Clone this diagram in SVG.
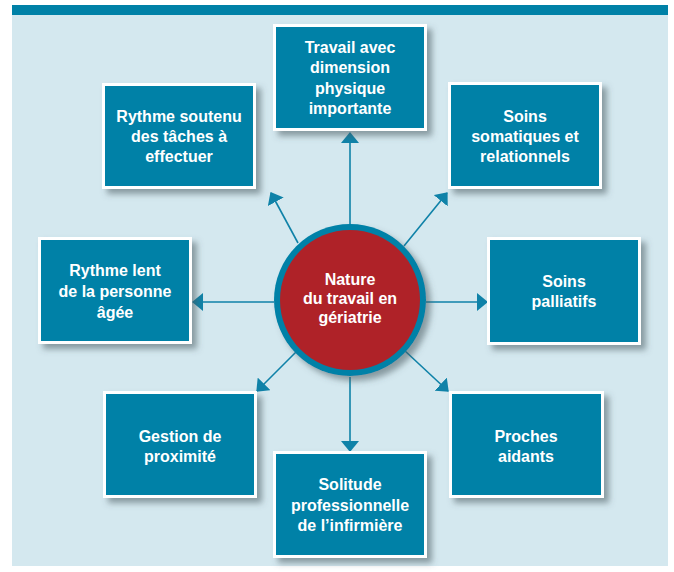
<svg xmlns="http://www.w3.org/2000/svg" width="674" height="572" viewBox="0 0 674 572">
<style>
.box-o{fill:#ffffff;}
.box-i{fill:#0081A7;}
.t{font-family:"Liberation Sans",Arial,sans-serif;font-weight:bold;font-size:16px;fill:#ffffff;text-anchor:middle;}
.c{stroke:#0F82A8;stroke-width:1.6;fill:none;marker-end:url(#ah);}
</style>
<defs>
<filter id="sh" x="-20%" y="-20%" width="150%" height="150%">
<feDropShadow dx="5" dy="5" stdDeviation="3" flood-color="#4a5a60" flood-opacity="0.55"/>
</filter>
<marker id="ah" viewBox="0 0 11 18" refX="10" refY="9" markerWidth="11" markerHeight="18" markerUnits="userSpaceOnUse" orient="auto">
<path d="M0,0 L11,9 L0,18 z" fill="#0F82A8"/>
</marker>
</defs>
<rect x="12" y="5" width="656" height="561" fill="#D4E8EF"/>
<rect x="12" y="5" width="656" height="10" fill="#0081A7"/>
<g id="connectors">
<line class="c" x1="350" y1="224" x2="350" y2="133"/>
<line class="c" x1="298" y1="243" x2="271" y2="193"/>
<line class="c" x1="404" y1="246" x2="447" y2="193"/>
<line class="c" x1="274" y1="302" x2="193" y2="302"/>
<line class="c" x1="426" y1="302" x2="487" y2="302"/>
<line class="c" x1="298" y1="350" x2="257" y2="391"/>
<line class="c" x1="404" y1="350" x2="448" y2="391"/>
<line class="c" x1="350" y1="377" x2="350" y2="451"/>
</g>
<g id="center">
<circle cx="350" cy="300" r="76" fill="#0081A7" filter="url(#sh)"/>
<circle cx="350" cy="300" r="70" fill="#AF2228"/>
<text class="t" x="350" y="285">Nature</text>
<text class="t" x="350" y="304">du travail en</text>
<text class="t" x="350" y="323">gériatrie</text>
</g>
<g id="n-travail">
<rect class="box-o" x="273" y="24" width="154" height="107" filter="url(#sh)"/>
<rect class="box-i" x="276" y="27" width="148" height="101"/>
<text class="t" x="350" y="53">Travail avec</text>
<text class="t" x="350" y="73">dimension</text>
<text class="t" x="350" y="94">physique</text>
<text class="t" x="350" y="114">importante</text>
</g>
<g id="n-rythme-soutenu">
<rect class="box-o" x="102" y="83" width="154" height="106" filter="url(#sh)"/>
<rect class="box-i" x="105" y="86" width="148" height="100"/>
<text class="t" x="179" y="122">Rythme soutenu</text>
<text class="t" x="179" y="142">des tâches à</text>
<text class="t" x="179" y="162">effectuer</text>
</g>
<g id="n-soins-somatiques">
<rect class="box-o" x="448" y="82" width="154" height="107" filter="url(#sh)"/>
<rect class="box-i" x="451" y="85" width="148" height="101"/>
<text class="t" x="525" y="122">Soins</text>
<text class="t" x="525" y="142">somatiques et</text>
<text class="t" x="525" y="162">relationnels</text>
</g>
<g id="n-rythme-lent">
<rect class="box-o" x="38" y="237" width="154" height="107" filter="url(#sh)"/>
<rect class="box-i" x="41" y="240" width="148" height="101"/>
<text class="t" x="115" y="276">Rythme lent</text>
<text class="t" x="115" y="297">de la personne</text>
<text class="t" x="115" y="318">âgée</text>
</g>
<g id="n-soins-palliatifs">
<rect class="box-o" x="487" y="237" width="154" height="108" filter="url(#sh)"/>
<rect class="box-i" x="490" y="240" width="148" height="102"/>
<text class="t" x="564" y="287">Soins</text>
<text class="t" x="564" y="307">palliatifs</text>
</g>
<g id="n-gestion">
<rect class="box-o" x="103" y="391" width="154" height="107" filter="url(#sh)"/>
<rect class="box-i" x="106" y="394" width="148" height="101"/>
<text class="t" x="180" y="442">Gestion de</text>
<text class="t" x="180" y="462">proximité</text>
</g>
<g id="n-proches">
<rect class="box-o" x="449" y="391" width="155" height="107" filter="url(#sh)"/>
<rect class="box-i" x="452" y="394" width="149" height="101"/>
<text class="t" x="526" y="442">Proches</text>
<text class="t" x="526" y="462">aidants</text>
</g>
<g id="n-solitude">
<rect class="box-o" x="273" y="451" width="154" height="107" filter="url(#sh)"/>
<rect class="box-i" x="276" y="454" width="148" height="101"/>
<text class="t" x="350" y="490">Solitude</text>
<text class="t" x="350" y="511">professionnelle</text>
<text class="t" x="350" y="531">de l’infirmière</text>
</g>
</svg>
